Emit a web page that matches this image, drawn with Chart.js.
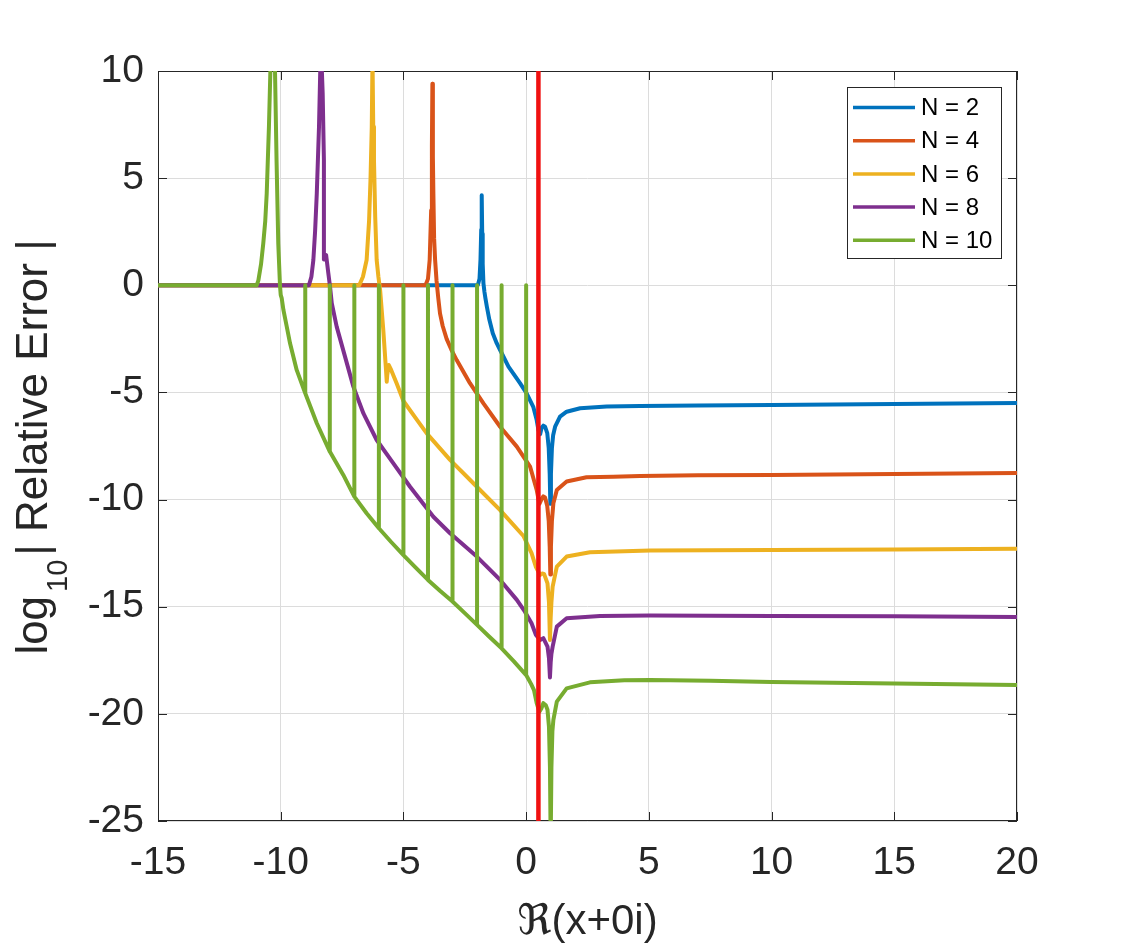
<!DOCTYPE html>
<html>
<head>
<meta charset="utf-8">
<script src="https://cdn.jsdelivr.net/npm/chart.js@4.4.1/dist/chart.umd.min.js"></script>
<style>
  html, body { margin: 0; padding: 0; background: #fff; }
  #chart { display: block; }
</style>
</head>
<body>
<canvas id="chart" width="1125" height="945"></canvas>
<script>
// values
const xTicks = [-15, -10, -5, 0, 5, 10, 15, 20];
const yTicks = [-25, -20, -15, -10, -5, 0, 5, 10];
const seriesLabels = ['N = 2', 'N = 4', 'N = 6', 'N = 8', 'N = 10'];
const seriesColors = ['#0072BD', '#D95319', '#EDB120', '#7E2F8E', '#77AC30'];

const blueX = [-15, -1.97, -1.9, -1.86, -1.83, -1.81, -1.79, -1.77, -1.74, -1.7, -1.66, -1.6, -1.5, -1.36, -1.2, -1.06, -0.72, -0.25, 0.02, 0.29, 0.43, 0.5, 0.57, 0.63, 0.7, 0.77, 0.86, 0.92, 0.96, 0.985, 1.01, 1.05, 1.1, 1.18, 1.38, 1.65, 2.2, 3.28, 4.64, 7, 10, 15, 20];
const blueY = [0, 0, 0.3, 1.2, 2.6, 4.2, 2.4, 1.0, 0.09, -0.3, -0.6, -1.0, -1.6, -2.24, -2.7, -3.02, -3.8, -4.57, -5.04, -5.67, -6.29, -6.75, -6.95, -6.65, -6.55, -6.6, -6.9, -7.6, -8.8, -10.2, -8.8, -7.6, -7.0, -6.6, -6.13, -5.9, -5.74, -5.66, -5.63, -5.61, -5.59, -5.54, -5.49];

const orangeX = [-15, -4.1, -4.0, -3.93, -3.87, -3.84, -3.82, -3.8, -3.78, -3.75, -3.71, -3.65, -3.58, -3.51, -3.4, -3.24, -3.05, -2.83, -2.29, -1.74, -1.06, -0.38, 0.16, 0.43, 0.54, 0.62, 0.7, 0.77, 0.86, 0.92, 0.96, 0.985, 1.01, 1.05, 1.11, 1.25, 1.65, 2.46, 3.55, 4.64, 7, 10, 15, 20];
const orangeY = [0, 0, 0.3, 1.2, 3.5, 6.5, 9.4, 6.0, 4.3, 2.2, 1.2, 0.2, -0.6, -1.31, -1.9, -2.5, -3.0, -3.49, -4.57, -5.51, -6.6, -7.53, -8.46, -9.55, -10.2, -10.0, -9.85, -9.9, -10.3, -11.0, -12.2, -13.5, -12.2, -11.0, -10.17, -9.55, -9.16, -8.96, -8.93, -8.9, -8.87, -8.85, -8.81, -8.76];

const yellowX = [-15, -6.8, -6.65, -6.5, -6.4, -6.34, -6.29, -6.26, -6.23, -6.2, -6.15, -6.09, -6.02, -5.95, -5.82, -5.71, -5.68, -5.66, -5.6, -5.5, -5.27, -5.0, -4.5, -4.05, -3.1, -2.15, -1.06, -0.11, 0.22, 0.4, 0.57, 0.65, 0.73, 0.87, 0.93, 0.97, 1.0, 1.03, 1.08, 1.25, 1.65, 2.6, 5.05, 10, 15, 20];
const yellowY = [0, 0, 0.4, 1.18, 3.0, 5.0, 7.4, 10.6, 7.4, 5.85, 3.2, 1.18, 0.4, -0.22, -2.09, -3.95, -4.5, -4.2, -3.72, -3.95, -4.6, -5.4, -6.2, -6.91, -8.15, -9.24, -10.49, -11.7, -12.5, -13.15, -13.52, -13.45, -13.47, -13.91, -14.8, -16.55, -15.5, -14.8, -14.06, -13.13, -12.66, -12.46, -12.38, -12.35, -12.33, -12.3];

const purpleX = [-15, -8.85, -8.75, -8.67, -8.6, -8.53, -8.44, -8.37, -8.33, -8.29, -8.24, -8.24, -8.2, -8.15, -8.06, -7.99, -7.92, -7.72, -7.38, -7.04, -6.63, -6.09, -5.41, -4.73, -3.78, -3.1, -2.01, -1.06, -0.38, -0.05, 0.22, 0.4, 0.57, 0.7, 0.87, 0.93, 0.97, 1.0, 1.03, 1.08, 1.25, 1.65, 3.01, 5.05, 10, 15, 20];
const purpleY = [0, 0, 0.4, 1.18, 2.5, 4.29, 7.4, 11, 10.2, 8.96, 5.85, 1.2, 1.3, 1.41, 0.56, -0.07, -0.84, -1.93, -3.33, -4.73, -5.98, -7.22, -8.31, -9.4, -10.8, -11.57, -12.66, -13.75, -14.68, -15.23, -15.77, -16.32, -16.55, -16.47, -16.86, -17.4, -18.3, -17.6, -17.2, -16.86, -15.93, -15.54, -15.43, -15.41, -15.43, -15.45, -15.48];

const greenX = [-15, -10.98, -10.91, -10.8, -10.71, -10.63, -10.57, -10.48, -10.41, -10.33, -10.24, -10.17, -10.1, -10.03, -10.0, -9.96, -9.89, -9.75, -9.62, -9.35, -9, -8.53, -8, -7.45, -7, -6.5, -6, -5.5, -5, -4.5, -4, -3.5, -3, -2.5, -2, -1.5, -1, -0.5, 0, 0.2, 0.32, 0.43, 0.54, 0.62, 0.7, 0.8, 0.87, 0.93, 0.97, 1.0, 1.03, 1.07, 1.11, 1.25, 1.65, 2.6, 4, 5.05, 7.5, 10, 15, 20];
const greenY = [0, 0, 0.23, 1.0, 1.96, 3.0, 4.29, 7.4, 10.5, 12.5, 10.5, 5.85, 1.96, 0, -0.45, -0.6, -1.15, -1.95, -2.71, -3.95, -5.04, -6.44, -7.76, -8.85, -9.86, -10.64, -11.34, -11.98, -12.59, -13.18, -13.75, -14.27, -14.76, -15.3, -15.85, -16.4, -16.94, -17.55, -18.19, -18.6, -18.89, -19.5, -19.9, -19.75, -19.5, -19.6, -19.81, -20.6, -22.5, -26, -22.5, -20.8, -20.28, -19.43, -18.81, -18.53, -18.43, -18.42, -18.46, -18.51, -18.58, -18.65];
// the N = 10 curve jumps back up to 0 at these x values
const greenStems = [-9, -8, -7, -6, -5, -4, -3, -2, -1, 0];

const markerX = 0.5;   // red vertical line
const markerY = [-25, 10];

const FONT = "'Liberation Sans', Arial, Helvetica, 'DejaVu Sans', sans-serif";
const INK = '#262626';

function pairs(xs, ys) {
  return xs.map((x, i) => ({ x: x, y: ys[i] }));
}

function withStems(xs, ys, stems) {
  const out = [];
  xs.forEach((x, i) => {
    out.push({ x: x, y: ys[i] });
    if (stems.includes(x)) {
      out.push({ x: x, y: 0 });
      out.push({ x: x, y: ys[i] });
    }
  });
  return out;
}

const curves = [
  pairs(blueX, blueY),
  pairs(orangeX, orangeY),
  pairs(yellowX, yellowY),
  pairs(purpleX, purpleY),
  withStems(greenX, greenY, greenStems)
];

const datasets = curves.map((pts, i) => ({
  label: seriesLabels[i],
  data: pts,
  borderColor: seriesColors[i],
  borderWidth: 4,
  order: 5 - i
}));
datasets.push({
  label: '',
  data: markerY.map(v => ({ x: markerX, y: v })),
  borderColor: '#F01010',
  borderWidth: 4.5,
  order: 0
});

// box + inward tick marks, matlab style
const frame = {
  id: 'frame',
  beforeDatasetsDraw(chart) {
    const { ctx, chartArea: a, scales } = chart;
    const t = 9;
    ctx.save();
    ctx.strokeStyle = INK;
    ctx.lineWidth = 1;
    ctx.strokeRect(a.left + 0.5, a.top + 0.5, a.right - a.left - 1, a.bottom - a.top - 1);
    ctx.beginPath();
    xTicks.forEach(v => {
      const p = Math.round(scales.x.getPixelForValue(v)) + 0.5;
      ctx.moveTo(p, a.bottom); ctx.lineTo(p, a.bottom - t);
      ctx.moveTo(p, a.top); ctx.lineTo(p, a.top + t);
    });
    yTicks.forEach(v => {
      const p = Math.round(scales.y.getPixelForValue(v)) + 0.5;
      ctx.moveTo(a.left, p); ctx.lineTo(a.left + t, p);
      ctx.moveTo(a.right, p); ctx.lineTo(a.right - t, p);
    });
    ctx.stroke();
    ctx.restore();
  }
};

const titles = {
  id: 'titles',
  afterDraw(chart) {
    const { ctx, chartArea: a } = chart;
    ctx.save();
    ctx.fillStyle = INK;
    ctx.font = '42px ' + FONT;
    ctx.textAlign = 'center';
    ctx.textBaseline = 'alphabetic';
    ctx.fillText('\u211C(x+0i)', (a.left + a.right) / 2, 934);

    // y title with a real subscript
    const main = '44px ' + FONT, sub = '29px ' + FONT;
    ctx.font = main; const w1 = ctx.measureText('log').width;
    ctx.font = sub; const w2 = ctx.measureText('10').width;
    ctx.font = main; const w3 = ctx.measureText('| Relative Error |').width;
    const gap = 4;
    ctx.translate(47, (a.top + a.bottom) / 2 + 1);
    ctx.rotate(-Math.PI / 2);
    ctx.textAlign = 'left';
    let u = -(w1 + w2 + w3 + 2 * gap) / 2;
    ctx.font = main; ctx.fillText('log', u, 0); u += w1 + gap;
    ctx.font = sub; ctx.fillText('10', u, 20); u += w2 + gap;
    ctx.font = main; ctx.fillText('| Relative Error |', u, 0);
    ctx.restore();
  }
};

const insideLegend = {
  id: 'insideLegend',
  afterDraw(chart) {
    const { ctx, chartArea: a } = chart;
    const items = chart.data.datasets.filter(d => d.label);
    const bx = a.right - 170, by = a.top + 16, bw = 155, bh = 172;
    ctx.save();
    ctx.fillStyle = '#fff';
    ctx.fillRect(bx, by, bw, bh);
    ctx.strokeStyle = INK;
    ctx.lineWidth = 1;
    ctx.strokeRect(bx + 0.5, by + 0.5, bw - 1, bh - 1);
    ctx.font = '24px ' + FONT;
    ctx.textBaseline = 'middle';
    ctx.textAlign = 'left';
    items.forEach((d, i) => {
      const ry = by + 20.5 + i * 33.2;
      ctx.strokeStyle = d.borderColor;
      ctx.lineWidth = 3.5;
      ctx.beginPath();
      ctx.moveTo(bx + 6, ry); ctx.lineTo(bx + 68, ry);
      ctx.stroke();
      ctx.fillStyle = '#000';
      ctx.fillText(d.label, bx + 74, ry + 1);
    });
    ctx.restore();
  }
};

new Chart(document.getElementById('chart'), {
  type: 'line',
  data: { datasets: datasets },
  options: {
    responsive: false,
    animation: false,
    devicePixelRatio: 1,
    layout: { padding: { left: 0, top: 71, right: 108, bottom: 0 } },
    plugins: { legend: { display: false }, tooltip: { enabled: false } },
    elements: {
      point: { radius: 0 },
      line: { tension: 0, borderJoinStyle: 'round', borderCapStyle: 'butt' }
    },
    scales: {
      x: {
        type: 'linear',
        min: xTicks[0],
        max: xTicks[xTicks.length - 1],
        afterBuildTicks: s => { s.ticks = xTicks.map(v => ({ value: v })); },
        afterFit: s => { s.height = 124; },
        grid: { color: '#dcdcdc', drawTicks: false },
        border: { display: false },
        ticks: {
          padding: 19, color: INK, maxRotation: 0, autoSkip: false,
          font: { family: FONT, size: 39 },
          callback: v => String(v)
        }
      },
      y: {
        type: 'linear',
        min: yTicks[0],
        max: yTicks[yTicks.length - 1],
        afterBuildTicks: s => { s.ticks = yTicks.map(v => ({ value: v })); },
        afterFit: s => { s.width = 158; },
        grid: { color: '#dcdcdc', drawTicks: false },
        border: { display: false },
        ticks: {
          padding: 14, color: INK, autoSkip: false,
          font: { family: FONT, size: 39 },
          callback: v => String(v)
        }
      }
    }
  },
  plugins: [frame, titles, insideLegend]
});
</script>
</body>
</html>
